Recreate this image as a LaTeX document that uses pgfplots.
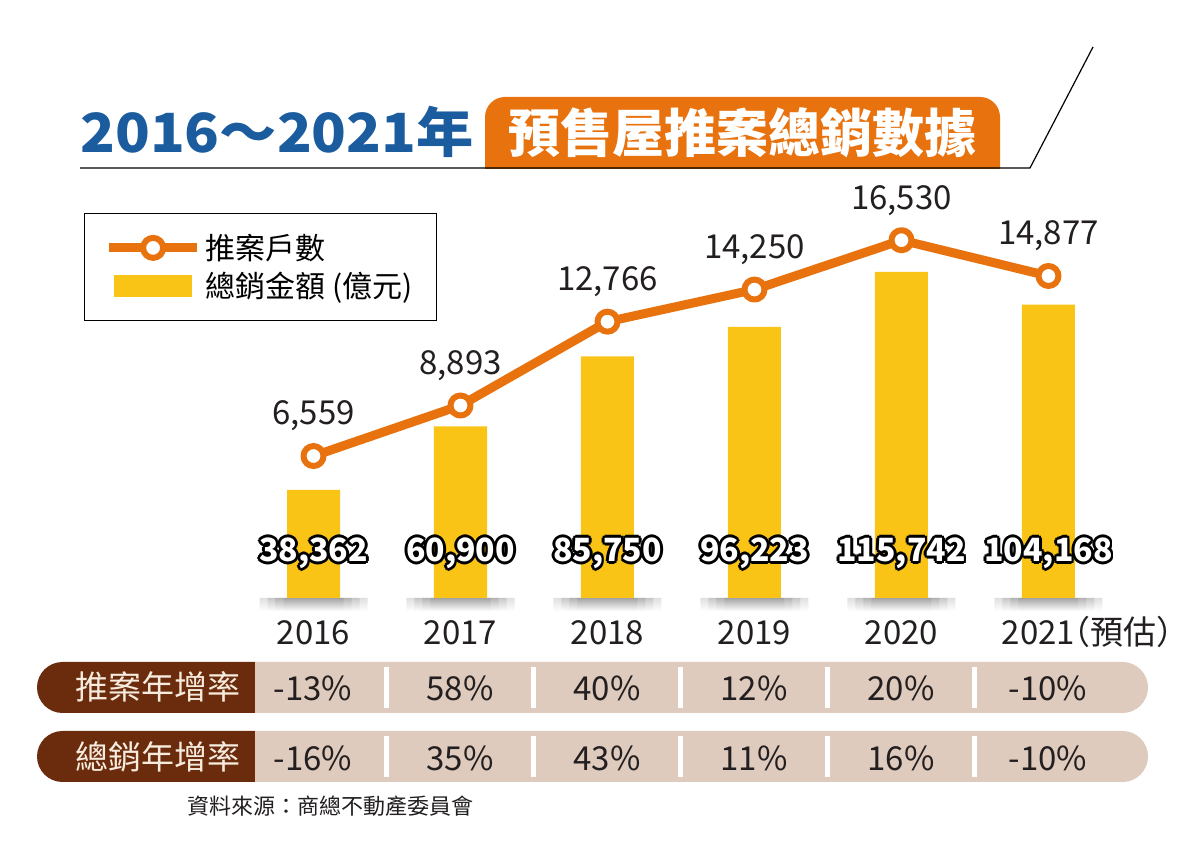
\documentclass[border=0pt]{standalone}
\usepackage{pgfplots}
\pgfplotsset{compat=1.18}
\usepackage{fontspec}
\setmainfont{Noto Sans CJK TC}

\definecolor{cOrange}{HTML}{E8720E}
\definecolor{cYellow}{HTML}{F9C416}
\definecolor{cBlue}{HTML}{1B5C9E}
\definecolor{cBrown}{HTML}{6B2C0E}
\definecolor{cBeige}{HTML}{DFCBBD}
\definecolor{cCream}{HTML}{F7EBDD}
\definecolor{cText}{HTML}{231F20}

% white figures with a black rim
\newbox\outlA \newbox\outlB
\newcommand\outlshift[2]{\rlap{\hskip#1\raisebox{#2}{\copy\outlA}}}
\newcommand\outl[1]{\setbox\outlA=\hbox{\color{black}#1}\setbox\outlB=\hbox{\color{white}#1}%
  \outlshift{1.4pt}{0pt}\outlshift{-1.4pt}{0pt}\outlshift{0pt}{1.4pt}\outlshift{0pt}{-1.4pt}%
  \outlshift{1pt}{1pt}\outlshift{-1pt}{1pt}\outlshift{1pt}{-1pt}\outlshift{-1pt}{-1pt}%
  \box\outlB}

\begin{document}
\begin{tikzpicture}
\begin{scope}[x=0.5pt,y=-0.5pt]
  \path[use as bounding box, fill=white] (0,0) rectangle (1200,849);
  % title
  \node[anchor=base west, inner sep=0, text=cBlue, font=\bfseries\fontsize{27}{27}\selectfont]
    at (80,153) {\scalebox{1.06}[1]{2016～2021年}};
  \fill[cOrange, rounded corners=10pt] (485,97) rectangle (1000,190);
  \fill[white] (480,169) rectangle (1005,200);
  \node[text=white, font=\bfseries\fontsize{26}{26}\selectfont] at (742,133) {預售屋推案總銷數據};
  \draw[line width=0.6pt] (80,168) -- (1030,168) -- (1093,47);
  % growth table
  \foreach \yy in {662,731}{
    \fill[cBeige, rounded corners=12.75pt] (230,\yy) rectangle (1148,\yy+51);
    \fill[cBrown, rounded corners=12.75pt] (37,\yy) rectangle (280,\yy+51);
    \fill[cBeige] (255,\yy) rectangle (300,\yy+51);
    \foreach \sx in {386.5,533.5,680.5,827.5,974.5}
      \fill[white] (\sx-2.5,\yy+5) rectangle (\sx+2.5,\yy+46);
  }
  \node[text=cCream, font=\fontsize{16.5}{17}\selectfont] at (158,687) {推案年增率};
  \node[text=cCream, font=\fontsize{16.5}{17}\selectfont] at (158,757) {總銷年增率};
  \foreach \v [count=\i from 0] in {-13\%,58\%,40\%,12\%,20\%,-10\%}
    \node[text=cText, font=\fontsize{16.5}{17}\selectfont] at (313+147*\i,688) {\v};
  \foreach \v [count=\i from 0] in {-16\%,35\%,43\%,11\%,16\%,-10\%}
    \node[text=cText, font=\fontsize{16.5}{17}\selectfont] at (313+147*\i,758) {\v};
  \node[anchor=west, text=cText, font=\fontsize{11}{12}\selectfont] at (180,806) {資料來源：商總不動產委員會};
\end{scope}

% bars: total sales (100 million NTD)
\begin{axis}[at={(120pt,-299pt)}, anchor=south west, scale only axis,
  width=441pt, height=200pt, xmin=-0.5, xmax=5.5, ymin=0, ymax=142000,
  axis line style={draw=none}, major tick length=0pt, ytick=\empty,
  xtick={0,...,5},
  xticklabels={2016,2017,2018,2019,2020,{\kern-10pt 2021\rlap{\kern-0.55em（預估）}}},
  xticklabel style={font=\fontsize{16.5}{18}\selectfont, text=cText, anchor=base, yshift=-23pt},
  clip=false]
  \addplot[ybar, bar width=54pt, bar shift=0pt, draw=none, top color=black!60, bottom color=white, opacity=0.2]
    coordinates {(0,-4600) (1,-4600) (2,-4600) (3,-4600) (4,-4600) (5,-4600)};
  \addplot[ybar, bar width=46pt, bar shift=0pt, draw=none, top color=black!60, bottom color=white, opacity=0.2]
    coordinates {(0,-4600) (1,-4600) (2,-4600) (3,-4600) (4,-4600) (5,-4600)};
  \addplot[ybar, bar width=38pt, bar shift=0pt, draw=none, top color=black!60, bottom color=white, opacity=0.2]
    coordinates {(0,-4600) (1,-4600) (2,-4600) (3,-4600) (4,-4600) (5,-4600)};
  \addplot[ybar, bar width=30pt, bar shift=0pt, draw=none, top color=black!60, bottom color=white, opacity=0.2]
    coordinates {(0,-4600) (1,-4600) (2,-4600) (3,-4600) (4,-4600) (5,-4600)};
  \addplot[ybar, bar width=26.5pt, bar shift=0pt, draw=none, fill=cYellow]
    coordinates {(0,38362) (1,60900) (2,85750) (3,96223) (4,115742) (5,104168)};
  \addplot[draw=none, point meta=explicit symbolic,
    nodes near coords={\outl{\pgfplotspointmeta}},
    every node near coord/.style={anchor=center, font=\bfseries\fontsize{16}{17}\selectfont}]
    table[meta=lab] {
x y lab
0 15900 38,362
1 15900 60,900
2 15900 85,750
3 15900 96,223
4 15900 115,742
5 15900 104,168
};
\end{axis}

% line: number of units launched
\begin{axis}[at={(120pt,-299pt)}, anchor=south west, scale only axis,
  width=441pt, height=200pt, xmin=-0.5, xmax=5.5, ymin=0, ymax=18480,
  hide axis, clip=false,
  legend style={at={(-0.177,0.9625)}, anchor=north west, draw=black, line width=0.75pt,
    font=\fontsize{15}{18}\selectfont, inner xsep=10pt, inner ysep=8pt, row sep=1pt,
    /tikz/every even column/.append style={column sep=3pt}},
  legend cell align=left]
  \addplot[cOrange, line width=4.5pt, line join=round,
    mark=*, mark size=5pt, mark options={fill=white, draw=cOrange, line width=3pt},
    point meta=explicit symbolic, nodes near coords,
    every node near coord/.style={anchor=center, yshift=20pt, text=cText,
      font=\fontsize{16.5}{17}\selectfont},
    legend image code/.code={
      \draw[cOrange, line width=4.5pt] (0pt,0pt) -- (44pt,0pt);
      \draw[cOrange, line width=3pt, fill=white] (22pt,0pt) circle (5pt);}]
    table[meta=lab] {
x y lab
0 6559 6,559
1 8893 8,893
2 12766 12,766
3 14250 14,250
4 16530 16,530
5 14877 14,877
};
  \addlegendentry{推案戶數}
  \addlegendimage{legend image code/.code={\fill[cYellow] (3pt,-5pt) rectangle (41pt,5pt);}}
  \addlegendentry{總銷金額 (億元)}
\end{axis}
\end{tikzpicture}
\end{document}
